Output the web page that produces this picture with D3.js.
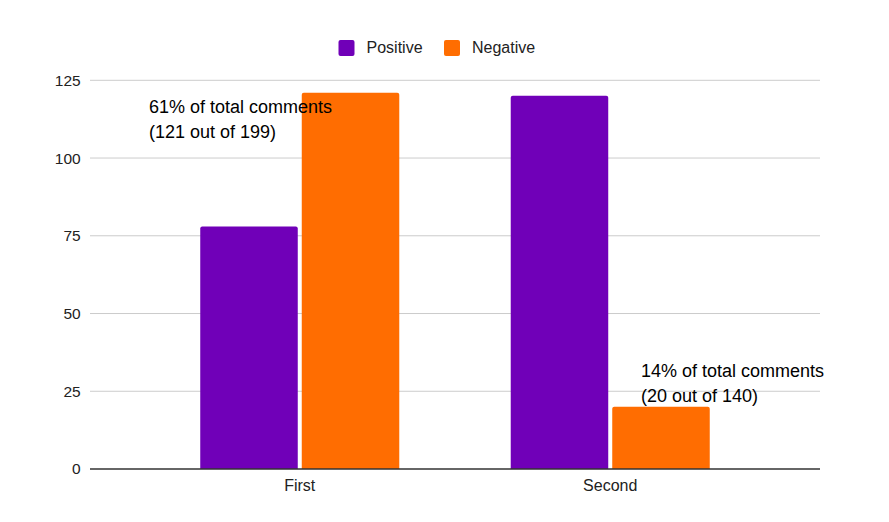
<!DOCTYPE html>
<html><head><meta charset="utf-8">
<script src="https://cdn.jsdelivr.net/npm/d3@7"></script>
<style>body{margin:0;background:#fff;font-family:"Liberation Sans",Arial,sans-serif;}</style>
</head><body><svg id="c" width="889" height="522"></svg>
<script>
const categories = ["First", "Second"];
const series = ["Positive", "Negative"];
const positive = [78, 120];
const negative = [121, 20];
const yTicks = [0, 25, 50, 75, 100, 125];
const colors = ["#7000b8", "#ff6d01"];
const annotations = [
  {cat: "First", ser: "Negative", lines: ["61% of total comments", "(121 out of 199)"], dx: -201.5, yVal: 114.4},
  {cat: "Second", ser: "Negative", lines: ["14% of total comments", "(20 out of 140)"], dx: -20, yVal: 29.7}
];

const svg = d3.select("#c");
const m = {left: 90, right: 820, top: 80.3, bottom: 469};
const y = d3.scaleLinear().domain([0, 125]).range([m.bottom, m.top]);
const x0 = d3.scaleBand().domain(categories).range([m.left, m.right]).paddingInner(0).paddingOuter(0.1756);
const x1 = d3.scaleBand().domain(series).range([0, x0.bandwidth()]).paddingInner(0.0394).paddingOuter(0.549);
const vals = {Positive: positive, Negative: negative};
const FF = "Liberation Sans, Arial, sans-serif";

// gridlines
svg.append("g").selectAll("line").data(yTicks.filter(d => d > 0)).join("line")
  .attr("x1", m.left).attr("x2", m.right)
  .attr("y1", d => y(d)).attr("y2", d => y(d))
  .attr("stroke", "#cccccc").attr("stroke-width", 1);

// y labels
const yAxis = d3.axisLeft(y).tickValues(yTicks).tickSize(0).tickPadding(9.3);
const ya = svg.append("g").attr("transform", `translate(${m.left},0)`).call(yAxis);
ya.select(".domain").remove();
ya.selectAll("text").attr("font-size", 15.5).attr("fill", "#222").attr("font-family", FF);

// bars
const rr = 2;
function barPath(x, yt, w, yb) {
  return `M${x},${yb}V${yt + rr}Q${x},${yt} ${x + rr},${yt}H${x + w - rr}Q${x + w},${yt} ${x + w},${yt + rr}V${yb}Z`;
}
categories.forEach((c, i) => {
  series.forEach((s, j) => {
    const bx = x0(c) + x1(s);
    svg.append("path")
      .attr("d", barPath(bx, y(vals[s][i]), x1.bandwidth(), y(0)))
      .attr("fill", colors[j]);
  });
});

// baseline
svg.append("line").attr("x1", m.left).attr("x2", m.right).attr("y1", y(0)).attr("y2", y(0))
  .attr("stroke", "#333").attr("stroke-width", 1.5);

// x labels
const xAxis = d3.axisBottom(x0).tickSize(0).tickPadding(10.3);
const xa = svg.append("g").attr("transform", `translate(0,${y(0)})`).call(xAxis);
xa.select(".domain").remove();
xa.selectAll("text").attr("font-size", 16).attr("fill", "#222").attr("font-family", FF);

// annotations
annotations.forEach(a => {
  const ax = x0(a.cat) + x1(a.ser) + x1.bandwidth() / 2 + a.dx;
  const t = svg.append("text").attr("x", ax).attr("y", y(a.yVal))
    .attr("font-size", 18).attr("fill", "#000").attr("font-family", FF);
  a.lines.forEach((l, k) => t.append("tspan").attr("x", ax).attr("dy", k === 0 ? 0 : 25).text(l));
});

// legend
const leg = svg.append("g");
const legX = [338.5, 444];
series.forEach((s, j) => {
  leg.append("rect").attr("x", legX[j]).attr("y", 40).attr("width", 16).attr("height", 16)
    .attr("rx", 2).attr("fill", colors[j]);
  leg.append("text").attr("x", legX[j] + 28).attr("y", 53).attr("font-size", 16)
    .attr("fill", "#222").attr("font-family", FF).text(s);
});
</script></body></html>
